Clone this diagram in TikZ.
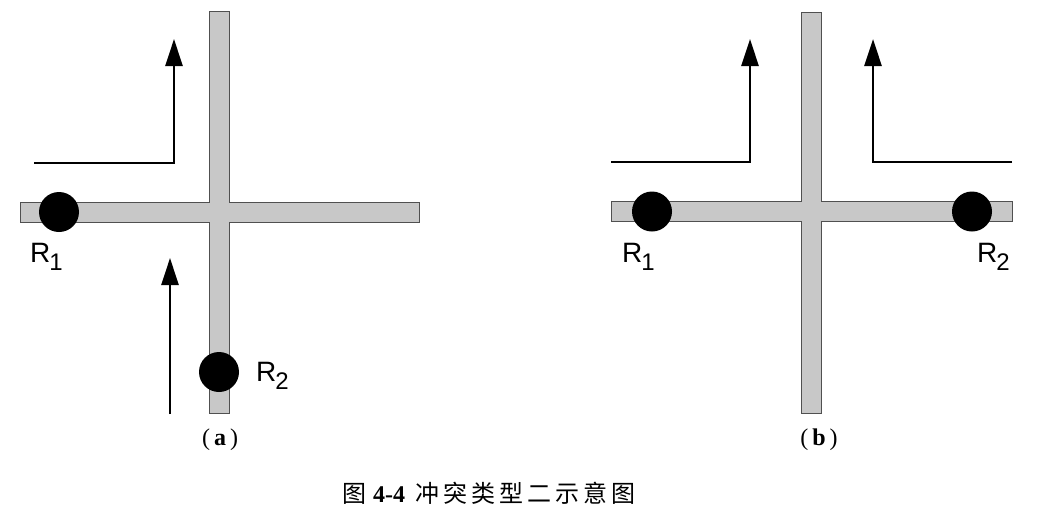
\documentclass[tikz,border=0pt]{standalone}
\usepackage{fontspec}
\setmainfont{Liberation Serif}
\setsansfont{Liberation Sans}
\newfontfamily\cjk{Noto Sans CJK SC}
\usetikzlibrary{arrows.meta}
\definecolor{roadgray}{RGB}{200,200,200}
\definecolor{roadedge}{RGB}{80,80,80}
\newcommand{\rlab}[1]{{\sffamily\fontsize{28}{28}\selectfont R\kern-1pt\raisebox{-8pt}{\fontsize{24}{24}\selectfont #1}}}
\newcommand{\ck}{\kern4pt}
\begin{document}
\begin{tikzpicture}[x=1pt,y=-1pt,
  road/.style={fill=roadgray},
  roadline/.style={draw=roadedge,line width=0.8pt},
  dot/.style={circle,fill=black,minimum size=40pt,inner sep=0pt},
  rlabel/.style={anchor=base west,inner sep=0pt},
  arr/.style={line width=2.8pt,-{Triangle[length=27pt,width=17pt]}},
  sublabel/.style={font=\fontsize{24}{24}\selectfont,inner sep=0pt}]
\useasboundingbox (0,0) rectangle (1037,517);
% ---- panel (a) roads ----
\fill[road] (20,202) rectangle (419,222);
\fill[road] (209,11) rectangle (229,413);
\draw[roadline] (209,11) -- (229,11) -- (229,202) -- (419,202) -- (419,222) -- (229,222)
  -- (229,413) -- (209,413) -- (209,222) -- (20,222) -- (20,202) -- (209,202) -- cycle;
% ---- panel (b) roads ----
\fill[road] (611,201.5) rectangle (1012,221.5);
\fill[road] (801.5,12) rectangle (821.5,413);
\draw[roadline] (801.5,12) -- (821.5,12) -- (821.5,201.5) -- (1012,201.5) -- (1012,221.5) -- (821.5,221.5)
  -- (821.5,413) -- (801.5,413) -- (801.5,221.5) -- (611,221.5) -- (611,201.5) -- (801.5,201.5) -- cycle;
% ---- robots ----
\node[dot] (aR1) at (59,212) {};
\node[dot] (aR2) at (219,372) {};
\node[dot] (bR1) at (652,211.5) {};
\node[dot] (bR2) at (972,211.5) {};
\node[rlabel] (aR1l) at (30,262) {\rlab{1}};
\node[rlabel] (aR2l) at (256,381) {\rlab{2}};
\node[rlabel] (bR1l) at (622,262) {\rlab{1}};
\node[rlabel] (bR2l) at (977,262) {\rlab{2}};
% ---- arrows (a) ----
\coordinate (a1s) at (34,163);
\coordinate (a1c) at (174,163);
\coordinate (a1e) at (174,39);
\draw[arr] (a1s) -- (a1c) -- (a1e);
\coordinate (a2s) at (170,414);
\coordinate (a2e) at (170,258);
\draw[arr] (a2s) -- (a2e);
% ---- arrows (b) ----
\coordinate (b1s) at (611,162);
\coordinate (b1c) at (750,162);
\coordinate (b1e) at (750,39);
\draw[arr] (b1s) -- (b1c) -- (b1e);
\coordinate (b2s) at (1012,162);
\coordinate (b2c) at (873,162);
\coordinate (b2e) at (873,39);
\draw[arr] (b2s) -- (b2c) -- (b2e);
% ---- sub-captions ----
\node[sublabel] (capa) at (220,440) {(\,\textbf{a}\,)};
\node[sublabel] (capb) at (819,440) {(\,\textbf{b}\,)};
% ---- caption ----
\node[anchor=west,inner sep=0pt] (cap) at (342,493)
  {\fontsize{24}{24}\selectfont{\cjk 图}\kern7pt\textbf{4-4}\kern10pt{\cjk 冲\ck 突\ck 类\ck 型\ck 二\ck 示\ck 意\ck 图}};
\end{tikzpicture}
\end{document}
